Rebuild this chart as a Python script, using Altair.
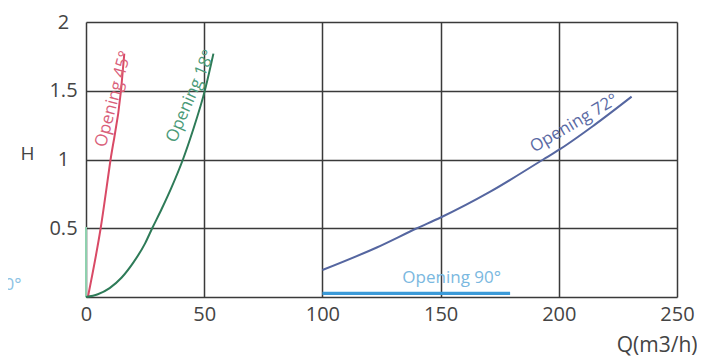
import altair as alt
import pandas as pd

# ---- data ----
q45 = [0.8, 6.2, 10.4, 14.8, 16.2]
h45 = [0.0, 0.5, 1.0, 1.5, 1.77]

q18 = [0, 5, 10, 15, 20, 25, 28, 32, 36, 41, 45, 50.4, 53.9]
h18 = [0, 0.02, 0.065, 0.14, 0.25, 0.39, 0.5, 0.64, 0.79, 1.0, 1.2, 1.51, 1.77]

q72 = [100, 123, 140, 150, 171, 193.4, 200.5, 215, 230.8]
h72 = [0.196, 0.36, 0.5, 0.578, 0.766, 1.0, 1.075, 1.25, 1.457]

q90 = [100, 179.4]
h90 = [0.027, 0.027]

q0 = [0, 0]
h0 = [0, 0.51]

series = ["Opening 0°", "Opening 45°", "Opening 18°", "Opening 72°", "Opening 90°"]
line_colors = ["#8fd0ae", "#d94a66", "#2e7b58", "#5566a0", "#3b9ad8"]
label_colors = ["#8cc2e4", "#d9607a", "#4a9a78", "#5a6aa4", "#7ab8e0"]
widths = [2, 2, 2, 2, 3.2]

label_text = ["Opening 0°", "Opening 45°", "Opening 18°", "Opening 72°", "Opening 90°"]
label_q = [-27.3, 11.6, 44.3, 206.5, 154.7]
label_h = [0.087, 1.44, 1.46, 1.262, 0.138]
label_angle = [0, 285, 293.5, 329.5, 0]
label_align = ["right", "center", "center", "center", "center"]

x_ticks = [0, 50, 100, 150, 200, 250]
y_ticks = [0, 0.5, 1, 1.5, 2]

rows = []
for name, qs, hs, w in zip(series, [q0, q45, q18, q72, q90], [h0, h45, h18, h72, h90], widths):
    for i, (q, h) in enumerate(zip(qs, hs)):
        rows.append({"series": name, "Q": q, "H": h, "order": i, "w": w})
lines_df = pd.DataFrame(rows)

labels_df = pd.DataFrame({
    "text": label_text, "Q": label_q, "H": label_h,
    "angle": label_angle, "series": series, "align": label_align,
})

xscale = alt.Scale(domain=[0, 250], nice=False, zero=False)
yscale = alt.Scale(domain=[0, 2], nice=False)

xaxis = alt.Axis(values=x_ticks, grid=True, gridColor="#3a3a3a", gridWidth=1.5,
                 domain=False, ticks=False, tickSize=0, labelPadding=7,
                 labelFont="Open Sans", labelFontSize=20, labelColor="#444444",
                 title="Q(m3/h)", titleFont="Open Sans", titleFontSize=21,
                 titleFontWeight="normal", titleColor="#444444",
                 titleAnchor="start", titleAlign="right", titleBaseline="middle",
                 titleX=611, titleY=48, labelFlush=False)
yaxis = alt.Axis(values=y_ticks, grid=True, gridColor="#3a3a3a", gridWidth=1.5,
                 domain=False, ticks=False, tickSize=0, labelPadding=23,
                 labelAlign="center", labelBaseline="middle",
                 labelExpr="datum.value == 0 ? '' : format(datum.value, '~g')",
                 labelFont="Open Sans", labelFontSize=20, labelColor="#444444",
                 title="H", titleFont="Open Sans", titleFontSize=19,
                 titleFontWeight="normal", titleColor="#444444", titleAngle=0,
                 titleAlign="center", titleBaseline="middle",
                 titleX=-59, titleY=131, labelFlush=False)

lines = alt.Chart(lines_df).mark_line(clip=False, interpolate="monotone").encode(
    x=alt.X("Q:Q", scale=xscale, axis=xaxis),
    y=alt.Y("H:Q", scale=yscale, axis=yaxis),
    color=alt.Color("series:N", scale=alt.Scale(domain=series, range=line_colors), legend=None),
    strokeWidth=alt.StrokeWidth("w:Q", scale=None),
    order="order:O",
    detail="series:N",
)

label_layers = []
for i in range(len(label_text)):
    sub = labels_df.iloc[[i]]
    label_layers.append(
        alt.Chart(sub).mark_text(
            font="Open Sans", fontSize=17, angle=label_angle[i],
            align=label_align[i], baseline="middle", color=label_colors[i],
        ).encode(
            x=alt.X("Q:Q", scale=xscale),
            y=alt.Y("H:Q", scale=yscale),
            text="text:N",
        )
    )

chart = alt.layer(lines, *label_layers).properties(
    width=591, height=275,
    autosize=alt.AutoSizeParams(type="none"),
    padding={"left": 78, "top": 14, "right": 20, "bottom": 60},
).configure_view(stroke=None)

chart.save("out.html", embed_options={"renderer": "svg", "actions": False})
